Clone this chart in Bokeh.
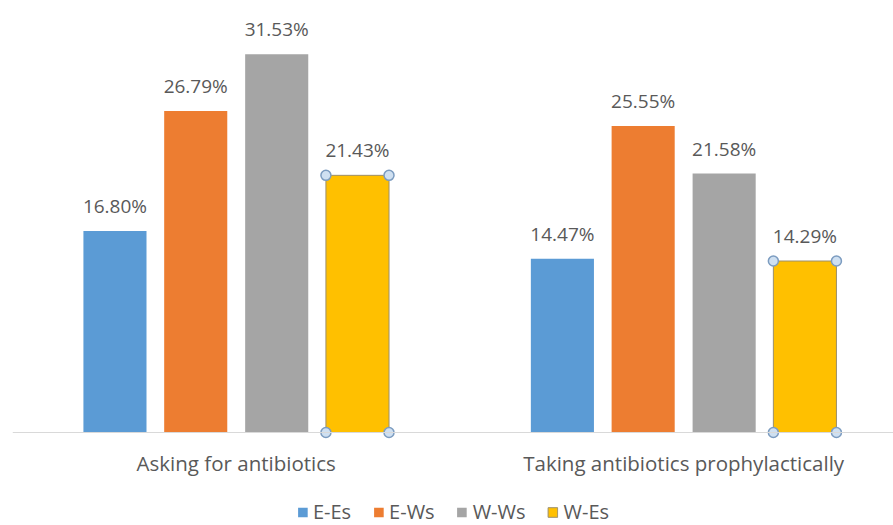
from bokeh.plotting import figure
from bokeh.models import (ColumnDataSource, Legend, LegendItem, Range1d, LabelSet, Span)
from bokeh.embed import file_html
from bokeh.resources import INLINE
from bokeh.core.properties import value

categories = ["Asking for antibiotics", "Taking antibiotics prophylactically"]
series = ["E-Es", "E-Ws", "W-Ws", "W-Es"]
e_es = [16.80, 14.47]
e_ws = [26.79, 25.55]
w_ws = [31.53, 21.58]
w_es = [21.43, 14.29]
values = [e_es, e_ws, w_ws, w_es]
colors = ["#5B9BD5", "#ED7D31", "#A5A5A5", "#FFC000"]

offsets = [-0.271, -0.0905, 0.0905, 0.271]
bar_w = 0.141
FONT = "Open Sans"
TXT = "#595959"

p = figure(width=893, height=525, x_range=Range1d(0, 1.969), y_range=Range1d(-7.75, 36.0),
           output_backend="svg", toolbar_location=None, x_axis_location=None,
           y_axis_location=None, min_border_left=12, min_border_right=0,
           min_border_top=0, min_border_bottom=0)
p.grid.visible = False
p.outline_line_color = None
p.background_fill_color = "white"
p.border_fill_color = "white"

# category baseline (value axis zero)
p.add_layout(Span(location=0, dimension="width", line_color="#D9D9D9", line_width=1))

renderers = []
for s, vals, col, off in zip(series, values, colors, offsets):
    xs = [i + 0.5 + off for i in range(len(categories))]
    src = ColumnDataSource(dict(x=xs, top=vals, label=[f"{v:.2f}%" for v in vals]))
    if s == "W-Es":
        r = p.vbar(x="x", top="top", width=bar_w, source=src, fill_color=col,
                   line_color="#9C8F6A", line_width=1)
    else:
        r = p.vbar(x="x", top="top", width=bar_w, source=src, fill_color=col, line_color=None)
    renderers.append(r)
    p.add_layout(LabelSet(x="x", y="top", text="label", source=src, text_align="center",
                          text_baseline="alphabetic", y_offset=18, text_font=value(FONT),
                          text_font_size="19px", text_color=TXT))

# selection handles on the W-Es series corners
hx, hy = [], []
for i, v in enumerate(w_es):
    c = i + 0.5 + offsets[3]
    for xx in (c - bar_w / 2, c + bar_w / 2):
        for yy in (0, v):
            hx.append(xx)
            hy.append(yy)
p.scatter(hx, hy, size=10, marker="circle", fill_color="#CFE0F1", line_color="#7C9CC0", line_width=1.5)

# category labels under the baseline
cat_src = ColumnDataSource(dict(x=[i + 0.5 for i in range(len(categories))],
                                y=[0] * len(categories), text=categories))
p.add_layout(LabelSet(x="x", y="y", text="text", source=cat_src, text_align="center",
                      text_baseline="alphabetic", y_offset=-38, text_font=value(FONT),
                      text_font_size="20.5px", text_color=TXT))

legend = Legend(items=[LegendItem(label=s, renderers=[r]) for s, r in zip(series, renderers)],
                orientation="horizontal", location="bottom_center", glyph_width=12, glyph_height=12,
                label_standoff=5, spacing=21, padding=0, margin=0,
                label_text_font=FONT, label_text_font_size="20px", label_text_color=TXT,
                border_line_color=None, background_fill_alpha=0)
p.add_layout(legend, "center")

open("out.html", "w").write(file_html(p, INLINE))
